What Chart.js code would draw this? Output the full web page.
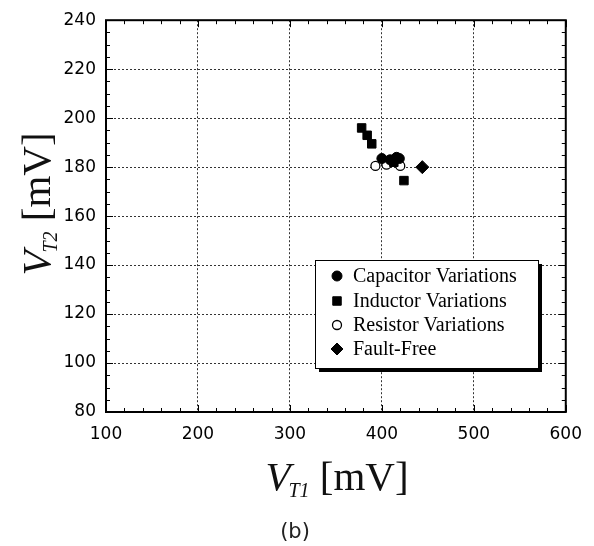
<!DOCTYPE html>
<html>
<head>
<meta charset="utf-8">
<script src="https://cdn.jsdelivr.net/npm/chart.js@4"></script>
<style>
html,body{margin:0;padding:0;background:#fff;}
#c{display:block;}
</style>
</head>
<body>
<canvas id="c" width="594" height="546"></canvas>
<script>
// ---- data ----
const seriesLabels = ['Capacitor Variations', 'Inductor Variations', 'Resistor Variations', 'Fault-Free'];
const capacitorX = [400, 409, 416, 419];
const capacitorY = [183.5, 183, 184, 183.5];
const inductorX = [378, 384, 389, 413, 424];
const inductorY = [196, 193, 189.5, 182, 174.5];
const resistorX = [393, 405, 420];
const resistorY = [180.5, 181, 180.5];
const faultFreeX = [444];
const faultFreeY = [180];
const xTickValues = [100, 200, 300, 400, 500, 600];
const yTickValues = [80, 100, 120, 140, 160, 180, 200, 220, 240];

const pts = (xs, ys) => xs.map((x, i) => ({x: x, y: ys[i]}));

const frameAndTicks = {
  id: 'frameAndTicks',
  afterDatasetsDraw(chart) {
    const {ctx, chartArea: a, scales: {x, y}} = chart;
    ctx.save();
    ctx.strokeStyle = '#000';
    ctx.lineWidth = 1;
    // minor & major ticks, inward on all four sides
    ctx.beginPath();
    for (let v = 100; v <= 600; v += 20) {
      const px = Math.round(x.getPixelForValue(v)) + 0.5;
      const len = (v % 100 === 0) ? 7 : 4;
      ctx.moveTo(px, a.bottom); ctx.lineTo(px, a.bottom - len);
      ctx.moveTo(px, a.top); ctx.lineTo(px, a.top + len);
    }
    for (let v = 80; v <= 240; v += 5) {
      const py = Math.round(y.getPixelForValue(v)) + 0.5;
      const len = (v % 20 === 0) ? 7 : 4;
      ctx.moveTo(a.left, py); ctx.lineTo(a.left + len, py);
      ctx.moveTo(a.right, py); ctx.lineTo(a.right - len, py);
    }
    ctx.stroke();
    // frame
    ctx.lineWidth = 2;
    ctx.strokeRect(a.left, a.top, a.right - a.left, a.bottom - a.top);

    // legend box
    const bx = 315, by = 260, bw = 223, bh = 108;
    ctx.fillStyle = '#000';
    ctx.fillRect(bx + 4, by + 4, bw, bh);
    ctx.fillStyle = '#fff';
    ctx.fillRect(bx, by, bw, bh);
    ctx.lineWidth = 1;
    ctx.strokeStyle = '#000';
    ctx.strokeRect(bx + 0.5, by + 0.5, bw, bh);
    const rows = [276, 301, 325, 349];
    ctx.font = '20px "Liberation Serif", "DejaVu Serif", serif';
    ctx.textBaseline = 'middle';
    ctx.textAlign = 'left';
    chart.data.datasets.forEach((ds, i) => {
      const opts = {
        pointStyle: ds.pointStyle,
        radius: ds.legendRadius,
        rotation: 0,
        borderWidth: ds.borderWidth
      };
      ctx.fillStyle = ds.backgroundColor;
      ctx.strokeStyle = ds.borderColor;
      ctx.lineWidth = ds.borderWidth;
      Chart.helpers.drawPoint(ctx, opts, 337, rows[i]);
      ctx.fillStyle = '#000';
      ctx.fillText(ds.label, 353, rows[i] + 1);
    });
    ctx.restore();
  },
  afterDraw(chart) {
    const {ctx} = chart;
    ctx.save();
    ctx.fillStyle = '#111';
    ctx.textBaseline = 'alphabetic';
    ctx.textAlign = 'left';
    const big = '41px "Liberation Serif", "DejaVu Serif", serif';
    const bigI = 'italic 41px "Liberation Serif", "DejaVu Serif", serif';
    const subI = 'italic 20px "Liberation Serif", "DejaVu Serif", serif';
    const drawTitle = (sub, cx, baseline) => {
      ctx.font = bigI; const wV = ctx.measureText('V').width;
      ctx.font = subI; const wS = ctx.measureText(sub).width;
      ctx.font = big; const wU = ctx.measureText(' [mV]').width;
      let x0 = cx - (wV + wS + wU) / 2;
      ctx.font = bigI; ctx.fillText('V', x0, baseline);
      ctx.font = subI; ctx.fillText(sub, x0 + wV - 2, baseline + 7);
      ctx.font = big; ctx.fillText(' [mV]', x0 + wV + wS - 2, baseline);
    };
    drawTitle('T1', 338, 490);
    ctx.save();
    ctx.translate(50, 203);
    ctx.rotate(-Math.PI / 2);
    drawTitle('T2', 0, 0);
    ctx.restore();
    ctx.font = '21px "DejaVu Sans", sans-serif';
    ctx.textAlign = 'center';
    ctx.fillStyle = '#222';
    ctx.fillText('(b)', 295, 538);
    ctx.restore();
  }
};

new Chart(document.getElementById('c'), {
  type: 'scatter',
  data: {
    datasets: [
      {label: seriesLabels[0], data: pts(capacitorX, capacitorY), pointStyle: 'circle', pointRadius: 5, legendRadius: 5,
       backgroundColor: '#000', borderColor: '#000', borderWidth: 1},
      {label: seriesLabels[1], data: pts(inductorX, inductorY), pointStyle: 'rect', pointRadius: 6, legendRadius: 6,
       backgroundColor: '#000', borderColor: '#000', borderWidth: 1},
      {label: seriesLabels[2], data: pts(resistorX, resistorY), pointStyle: 'circle', pointRadius: 4.5, legendRadius: 4.5,
       backgroundColor: '#fff', borderColor: '#000', borderWidth: 1.3},
      {label: seriesLabels[3], data: pts(faultFreeX, faultFreeY), pointStyle: 'rectRot', pointRadius: 6.5, legendRadius: 6,
       backgroundColor: '#000', borderColor: '#000', borderWidth: 1}
    ]
  },
  options: {
    responsive: false,
    devicePixelRatio: 1,
    animation: false,
    layout: {padding: {left: 0, top: 14, right: 27, bottom: 0}},
    plugins: {legend: {display: false}, tooltip: {enabled: false}},
    scales: {
      x: {
        type: 'linear', min: 100, max: 600,
        afterBuildTicks: s => { s.ticks = xTickValues.map(v => ({value: v})); },
        afterFit: s => { s.height = 134; },
        ticks: {padding: 12, color: '#000', font: {family: '"DejaVu Sans", sans-serif', size: 17}, maxRotation: 0},
        grid: {drawTicks: false, color: '#333', lineWidth: 1},
        border: {display: false, dash: [2, 2]}
      },
      y: {
        type: 'linear', min: 80, max: 240,
        afterBuildTicks: s => { s.ticks = yTickValues.map(v => ({value: v})); },
        afterFit: s => { s.width = 106; },
        ticks: {padding: 10, color: '#000', font: {family: '"DejaVu Sans", sans-serif', size: 17}},
        grid: {drawTicks: false, color: '#333', lineWidth: 1},
        border: {display: false, dash: [2, 2]}
      }
    }
  },
  plugins: [frameAndTicks]
});
</script>
</body>
</html>
